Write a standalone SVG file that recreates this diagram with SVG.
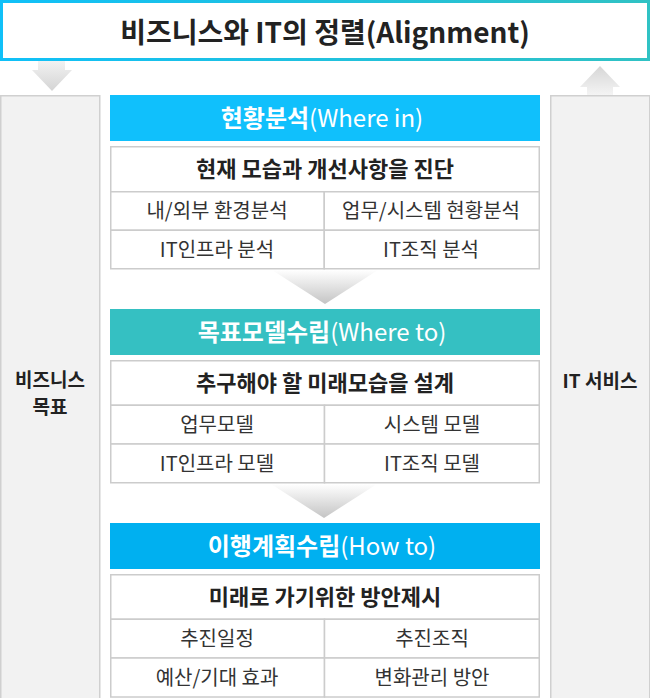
<svg xmlns="http://www.w3.org/2000/svg" width="650" height="698" viewBox="0 0 650 698">
<defs>
<linearGradient id="gBorder" x1="0" y1="0" x2="1" y2="0">
<stop offset="0" stop-color="#10c0f8"/>
<stop offset="1" stop-color="#30c2c4"/>
</linearGradient>
<linearGradient id="gDown" x1="0" y1="0" x2="0" y2="1">
<stop offset="0" stop-color="#f2f2f2"/>
<stop offset="1" stop-color="#d4d4d4"/>
</linearGradient>
<linearGradient id="gUp" x1="0" y1="0" x2="0" y2="1">
<stop offset="0" stop-color="#d6d6d6"/>
<stop offset="1" stop-color="#f4f4f4"/>
</linearGradient>
<linearGradient id="gChev" x1="0" y1="0" x2="0" y2="1">
<stop offset="0" stop-color="#ffffff"/>
<stop offset="1" stop-color="#c4c4c4"/>
</linearGradient>
</defs>
<style>
text{font-family:"Noto Sans CJK KR","Noto Sans",sans-serif;text-anchor:middle}
.title{font-size:28px;font-weight:700;fill:#222}
.side{fill:#f2f2f2;stroke:#d0d0d0;stroke-width:1.5}
.sideT{font-size:19px;font-weight:700;fill:#222}
.hdrT{font-size:24px;fill:#fff}
.hdrT tspan.b{font-weight:700}
.cell{fill:#fff;stroke:#cccccc;stroke-width:1.5}
.th{font-size:22px;font-weight:700;fill:#222}
.td{font-size:20px;fill:#333}
</style>

<g id="title">
<rect x="1.5" y="1.5" width="647" height="58" fill="#fff" stroke="url(#gBorder)" stroke-width="3"/>
<text class="title" x="325" y="43">비즈니스와 IT의 정렬(Alignment)</text>
</g>

<g id="left-column">
<rect class="side" x="0.75" y="95.75" width="99" height="610"/>
<text class="sideT" x="50" y="387">비즈니스</text>
<text class="sideT" x="50" y="414">목표</text>
</g>

<g id="right-column">
<rect class="side" x="550.75" y="95.75" width="99" height="610"/>
<text class="sideT" x="600" y="388">IT 서비스</text>
</g>

<g id="connectors">
<path d="M38 61 H65 V70 H72 L52 91 L32 70 H38 Z" fill="url(#gDown)"/>
<path d="M600 66 L620 87 H613 V95 H587 V87 H580 Z" fill="url(#gUp)"/>
<path d="M272 270 H378 L325 304 Z" fill="url(#gChev)"/>
<path d="M271 484 H377 L324 518 Z" fill="url(#gChev)"/>
</g>

<g id="stage1">
<rect x="110" y="95" width="430" height="46" fill="#10c0fc"/>
<text class="hdrT" x="322" y="127"><tspan class="b">현황분석</tspan>(Where in)</text>
<rect class="cell" x="110.75" y="146.75" width="428.5" height="45"/>
<rect class="cell" x="110.75" y="191.75" width="213.5" height="38.5"/>
<rect class="cell" x="324.25" y="191.75" width="215" height="38.5"/>
<rect class="cell" x="110.75" y="230.25" width="213.5" height="38.5"/>
<rect class="cell" x="324.25" y="230.25" width="215" height="38.5"/>
<text class="th" x="325" y="177">현재 모습과 개선사항을 진단</text>
<text class="td" x="217" y="218">내/외부 환경분석</text>
<text class="td" x="431" y="218">업무/시스템 현황분석</text>
<text class="td" x="217" y="257">IT인프라 분석</text>
<text class="td" x="431" y="257">IT조직 분석</text>
</g>

<g id="stage2">
<rect x="110" y="309" width="430" height="46" fill="#35c0c2"/>
<text class="hdrT" x="322" y="341"><tspan class="b">목표모델수립</tspan>(Where to)</text>
<rect class="cell" x="110.75" y="360.75" width="428.5" height="44.5"/>
<rect class="cell" x="110.75" y="405.25" width="213.75" height="38.75"/>
<rect class="cell" x="324.5" y="405.25" width="214.75" height="38.75"/>
<rect class="cell" x="110.75" y="444" width="213.75" height="38.75"/>
<rect class="cell" x="324.5" y="444" width="214.75" height="38.75"/>
<text class="th" x="325" y="391">추구해야 할 미래모습을 설계</text>
<text class="td" x="217" y="432">업무모델</text>
<text class="td" x="432" y="432">시스템 모델</text>
<text class="td" x="217" y="471">IT인프라 모델</text>
<text class="td" x="432" y="471">IT조직 모델</text>
</g>

<g id="stage3">
<rect x="110" y="523" width="430" height="46" fill="#00b0f0"/>
<text class="hdrT" x="322" y="555"><tspan class="b">이행계획수립</tspan>(How to)</text>
<rect class="cell" x="110.75" y="574.75" width="428.5" height="44.5"/>
<rect class="cell" x="110.75" y="619.25" width="213.75" height="38.75"/>
<rect class="cell" x="324.5" y="619.25" width="214.75" height="38.75"/>
<rect class="cell" x="110.75" y="658" width="213.75" height="39"/>
<rect class="cell" x="324.5" y="658" width="214.75" height="39"/>
<text class="th" x="325" y="605">미래로 가기위한 방안제시</text>
<text class="td" x="217" y="646">추진일정</text>
<text class="td" x="432" y="646">추진조직</text>
<text class="td" x="217" y="685">예산/기대 효과</text>
<text class="td" x="432" y="685">변화관리 방안</text>
</g>
</svg>
